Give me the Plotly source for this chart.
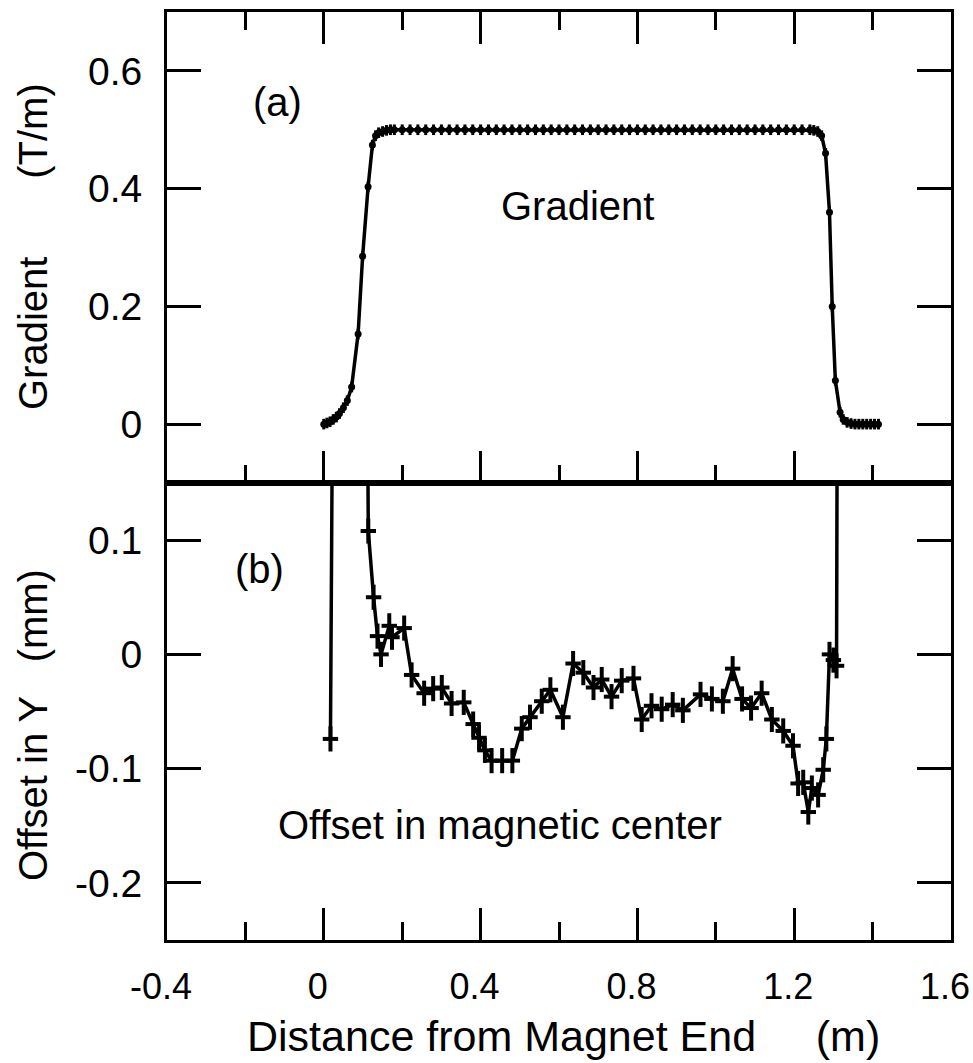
import plotly.graph_objects as go

# ---------------- data ----------------
# Panel (a): gradient (T/m) vs distance (m)
grad_x = [0.000, 0.008, 0.016, 0.024, 0.032, 0.040, 0.050, 0.060, 0.071, 0.0875, 0.099, 0.113, 0.124,
          0.132, 0.140, 0.150, 0.160, 0.170, 0.180, 0.200, 0.220, 0.240, 0.260, 0.280, 0.300,
          0.320, 0.340, 0.360, 0.380, 0.400, 0.420, 0.440, 0.460, 0.480, 0.500, 0.520, 0.540,
          0.560, 0.580, 0.600, 0.620, 0.640, 0.660, 0.680, 0.700, 0.720, 0.740, 0.760, 0.780,
          0.800, 0.820, 0.840, 0.860, 0.880, 0.900, 0.920, 0.940, 0.960, 0.980, 1.000, 1.020,
          1.040, 1.060, 1.080, 1.100, 1.120, 1.140, 1.160, 1.180, 1.200, 1.220, 1.240, 1.250,
          1.260, 1.270, 1.280, 1.290, 1.297, 1.305, 1.317, 1.325, 1.335, 1.345, 1.355, 1.365,
          1.375, 1.385, 1.395, 1.405, 1.415]
grad_y = [0.000, 0.002, 0.004, 0.008, 0.012, 0.018, 0.028, 0.040, 0.063, 0.153, 0.285, 0.403, 0.474,
          0.490, 0.495, 0.497, 0.499, 0.500, 0.500, 0.500, 0.500, 0.500, 0.500, 0.500, 0.500,
          0.500, 0.500, 0.500, 0.500, 0.500, 0.500, 0.500, 0.500, 0.500, 0.500, 0.500, 0.500,
          0.500, 0.500, 0.500, 0.500, 0.500, 0.500, 0.500, 0.500, 0.500, 0.500, 0.500, 0.500,
          0.500, 0.500, 0.500, 0.500, 0.500, 0.500, 0.500, 0.500, 0.500, 0.500, 0.500, 0.500,
          0.500, 0.500, 0.500, 0.500, 0.500, 0.500, 0.500, 0.500, 0.500, 0.500, 0.500, 0.499,
          0.497, 0.490, 0.460, 0.360, 0.200, 0.074, 0.020, 0.008, 0.003, 0.001, 0.000, 0.000,
          0.000, 0.000, 0.000, 0.000, 0.000]

# Panel (b): offset in Y (mm) vs distance (m)
off_x = [0.017, 0.035, 0.100, 0.1135, 0.127, 0.137, 0.146, 0.167, 0.174, 0.205, 0.224, 0.256,
         0.279, 0.301, 0.326, 0.357, 0.381, 0.396, 0.411, 0.428, 0.455, 0.481, 0.505, 0.526,
         0.556, 0.578, 0.610, 0.636, 0.662, 0.688, 0.709, 0.734, 0.760, 0.790, 0.811, 0.836,
         0.862, 0.890, 0.916, 0.961, 0.990, 1.018, 1.043, 1.067, 1.090, 1.117, 1.143, 1.172,
         1.197, 1.210, 1.223, 1.236, 1.245, 1.261, 1.274, 1.282, 1.290, 1.300, 1.308, 1.315]
off_y = [-0.074, 0.950, 0.850, 0.108, 0.050, 0.016, 0.000, 0.025, 0.015, 0.023, -0.018, -0.034,
         -0.030, -0.029, -0.043, -0.042, -0.061, -0.073, -0.084, -0.093, -0.093, -0.093, -0.065, -0.055,
         -0.041, -0.031, -0.055, -0.008, -0.016, -0.029, -0.022, -0.037, -0.023, -0.021, -0.057, -0.045,
         -0.048, -0.044, -0.049, -0.035, -0.039, -0.041, -0.0125, -0.039, -0.047, -0.034, -0.057, -0.067,
         -0.080, -0.113, -0.112, -0.138, -0.117, -0.123, -0.101, -0.074, 0.000, -0.005, -0.010, 0.900]

# tick labels
x_tickvals = [-0.4, 0.0, 0.4, 0.8, 1.2, 1.6]
x_ticktext = ["-0.4", "0", "0.4", "0.8", "1.2", "1.6"]
x_minorvals = [-0.2, 0.2, 0.6, 1.0, 1.4]
ya_tickvals = [0.0, 0.2, 0.4, 0.6]
ya_ticktext = ["0", "0.2", "0.4", "0.6"]
yb_tickvals = [-0.2, -0.1, 0.0, 0.1]
yb_ticktext = ["-0.2", "-0.1", "0", "0.1"]

# ---------------- figure ----------------
BLACK = "black"
SANS = "Liberation Sans, Arial, Helvetica, sans-serif"
NB = "\u00a0"

W, H = 973, 1063
L, R, T, B = 167, 22, 12, 123   # plot area: x 167..951, y 12..940

fig = go.Figure()

fig.add_trace(go.Scatter(
    x=grad_x, y=grad_y, xaxis="x2", yaxis="y2", mode="lines+markers",
    line=dict(color=BLACK, width=3.5),
    marker=dict(symbol="circle", size=7, color=BLACK),
    error_y=dict(type="constant", value=0.009, thickness=3, width=0, color=BLACK),
    showlegend=False, hoverinfo="skip"))

fig.add_trace(go.Scatter(
    x=off_x, y=off_y, xaxis="x", yaxis="y", mode="lines+markers",
    line=dict(color=BLACK, width=3.5),
    marker=dict(symbol="line-ew", size=11, line=dict(color=BLACK, width=4)),
    error_y=dict(type="constant", value=0.011, thickness=4, width=0, color=BLACK),
    showlegend=False, hoverinfo="skip"))

plot_w = W - L - R
plot_h = H - T - B
split = (940 - 483) / 928.0

common_x = dict(range=[-0.4, 1.6], tickmode="array", tickvals=x_tickvals, ticktext=x_ticktext,
                ticks="inside", ticklen=32, tickwidth=3, tickcolor=BLACK, automargin=False,
                showline=True, linewidth=3, linecolor=BLACK, showgrid=False, zeroline=False,
                minor=dict(tickmode="array", tickvals=x_minorvals, ticks="inside",
                           ticklen=18, tickwidth=3, tickcolor=BLACK, showgrid=False))

common_y = dict(ticks="inside", ticklen=34, tickwidth=3, tickcolor=BLACK, mirror="ticks",
                showline=True, linewidth=3, linecolor=BLACK, showgrid=False, zeroline=False,
                automargin=False, tickfont=dict(family=SANS, size=39, color=BLACK),
                ticklabelstandoff=14, tickmode="array")

fig.update_layout(
    width=W, height=H,
    margin=dict(l=L, r=R, t=T, b=B, autoexpand=False),
    paper_bgcolor="white", plot_bgcolor="white",
    xaxis=dict(domain=[0, 1], anchor="y", mirror=True,
               tickfont=dict(family=SANS, size=36, color=BLACK), ticklabelstandoff=13,
               ticklabelshift=-6, ticklabeloverflow="allow", **common_x),
    xaxis2=dict(domain=[0, 1], anchor="y2", matches="x", mirror="ticks", showticklabels=False,
                **common_x),
    yaxis=dict(domain=[0, split], range=[-0.25, 0.15],
               tickvals=yb_tickvals, ticktext=yb_ticktext, **common_y),
    yaxis2=dict(domain=[split, 1], range=[-0.1, 0.7],
                tickvals=ya_tickvals, ticktext=ya_ticktext, **common_y),
)

ann = [
    dict(text="(a)", x=-0.117, y=0.547, xref="x2", yref="y2", font=dict(family=SANS, size=40)),
    dict(text="Gradient", x=0.648, y=0.37, xref="x2", yref="y2", font=dict(family=SANS, size=40)),
    dict(text="(b)", x=-0.163, y=0.075, xref="x", yref="y", font=dict(family=SANS, size=40)),
    dict(text="Offset in magnetic center", x=0.45, y=-0.149, xref="x", yref="y",
         font=dict(family=SANS, size=40)),
    # titles positioned by window pixels
    dict(text="Distance from Magnet End" + NB * 5 + "(m)", px=563, py=1036,
         font=dict(family=SANS, size=43)),
    dict(text="Gradient" + NB * 7 + "(T/m)", px=33, py=247, textangle=-90,
         font=dict(family=SANS, size=40)),
    dict(text="Offset in Y" + NB * 3 + "(mm)", px=33, py=725, textangle=-90,
         font=dict(family=SANS, size=40)),
]
for a in ann:
    if "px" in a:
        px, py = a.pop("px"), a.pop("py")
        a["x"] = (px - L) / plot_w
        a["y"] = (H - B - py) / plot_h
        a["xref"] = "paper"
        a["yref"] = "paper"
    a["showarrow"] = False
    a["font"]["color"] = BLACK
    a["xanchor"] = "center"
    a["yanchor"] = "middle"
fig.update_layout(annotations=ann)

fig.write_html(
    "out.html",
    config={"displayModeBar": False, "staticPlot": True},
    post_script="document.body.style.margin='0';document.body.style.overflow='hidden';",
)
